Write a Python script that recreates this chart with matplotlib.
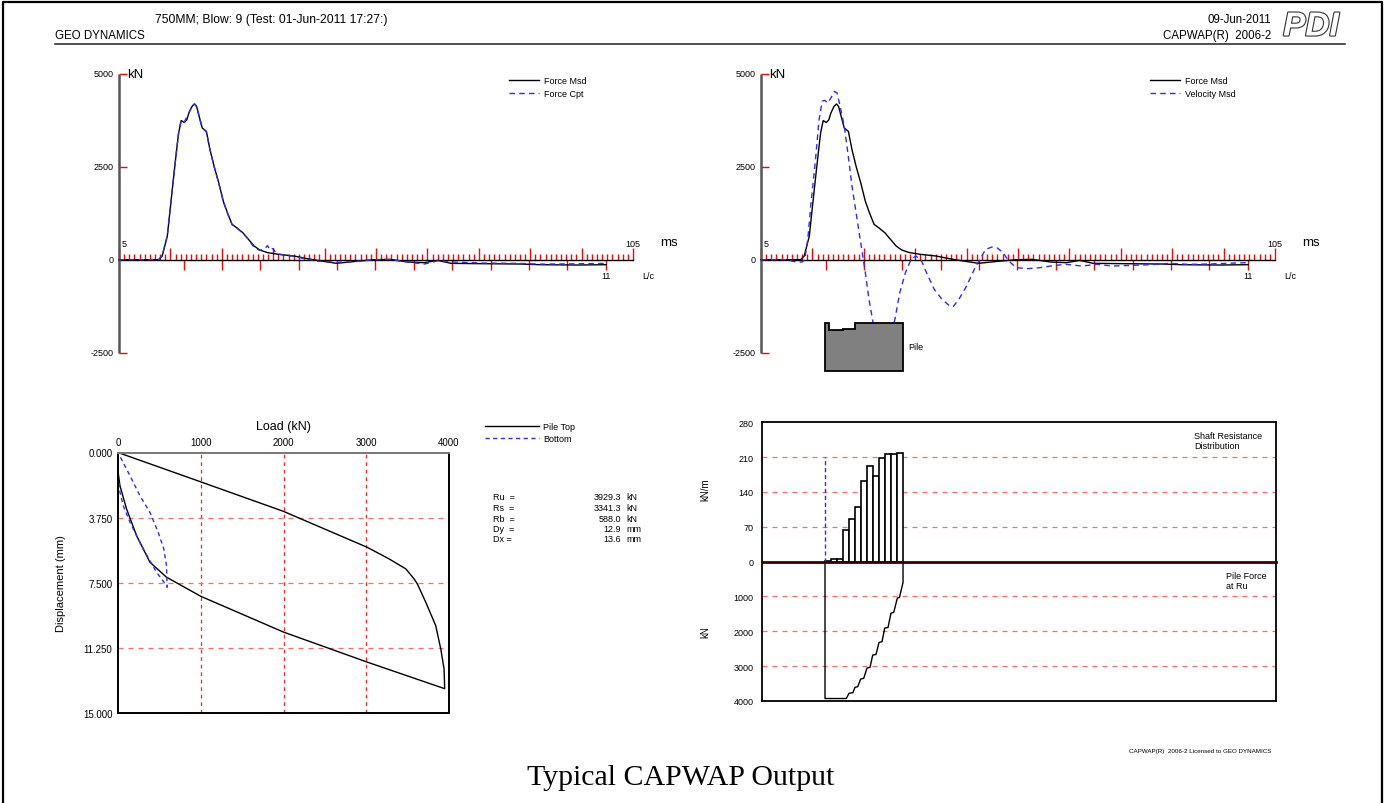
import numpy as np
import matplotlib.pyplot as plt
import matplotlib.patheffects as pe
from matplotlib.lines import Line2D
from matplotlib.patches import Polygon

plt.rcParams['font.family'] = ['Liberation Sans', 'DejaVu Sans']

W, H = 1385, 804

# === Data read from the CAPWAP record ===
# time axis (ms) and wave traces (kN)
t_force = [5, 12.7, 13.4, 14.4, 15.3, 16.0, 16.6, 17.1, 17.7, 18.2, 18.6, 19.2, 19.7, 20.1,
           20.6, 21.2, 22.0, 22.7, 23.5, 24.4, 25.3, 26.1, 27.0, 27.9, 29.1, 30.2, 31.3,
           32.4, 33.9, 36.1, 39.1, 41.3, 43.6, 47.3, 51.0, 54.7, 57.7, 61.4, 64.4, 67.0,
           69.6, 75.6, 83.0, 86.8, 94.2, 99.8]
force_msd = [0, 0, 98, 635, 1800, 2690, 3410, 3740, 3690, 3760, 3945, 4120, 4186, 4120,
             3850, 3540, 3450, 2960, 2510, 2070, 1570, 1260, 950, 860, 725, 545, 367,
             260, 190, 143, 98, 36, -18, -98, -45, 0, 9, -63, -80, -18,
             -98, -107, -116, -134, -143, -134]

t_cpt = [5, 12.7, 13.4, 14.4, 15.3, 16.0, 16.6, 17.1, 17.7, 18.6, 19.2, 19.7, 20.1, 20.6,
         21.2, 22.0, 22.7, 23.5, 24.4, 25.3, 26.1, 27.0, 27.9, 29.1, 30.2, 31.3, 32.4,
         33.3, 33.9, 34.3, 35.0, 35.4, 36.1, 39.1, 41.3, 43.6, 47.3, 51.0, 54.7, 57.7,
         61.4, 64.4, 67.0, 69.6, 75.6, 83.0, 86.8, 94.2, 99.5]
force_cpt = [0, 0, 110, 650, 1820, 2700, 3420, 3745, 3700, 3950, 4125, 4190, 4115, 3845,
             3535, 3440, 2955, 2505, 2060, 1560, 1250, 940, 850, 715, 540, 330, 250,
             290, 380, 270, 300, 200, 150, 90, 20, -40, -70, -50, 0, 5,
             -70, -116, -30, -60, -90, -100, -120, -110, -100]

t_vel = [5, 10, 11.5, 13.0, 13.5, 14.1, 14.8, 15.6, 16.3, 16.9, 17.4, 18.0, 18.6, 19.3,
         19.8, 20.4, 21.2, 21.9, 22.7, 23.6, 24.5, 25.3, 26.0, 26.8, 27.8, 28.8, 29.9,
         30.9, 32.0, 33.1, 34.2, 35.1, 36.1, 37.2, 38.7, 40.2, 41.7, 42.4, 43.5, 45.0,
         46.5, 47.6, 48.7, 49.9, 51.0, 52.1, 53.2, 54.7, 56.9, 59.2, 62.2, 64.4, 67.4,
         70.4, 73.3, 77.1, 80.8, 84.5, 88.2, 92.0, 95.7, 99.4]
velocity_msd = [0, 0, -54, -63, 0, 545, 1620, 2690, 3765, 4258, 4285, 4213, 4347, 4526,
                4480, 4124, 3587, 2871, 1977, 1172, 367, -349, -1064, -1690, -2200, -2350, -2200,
                -1717, -886, -349, 9, 98, 9, -349, -796, -1064, -1243, -1261, -1064, -707,
                -259, 9, 277, 340, 313, 188, -36, -215, -241, -215, -152, -125, -170,
                -125, -170, -152, -134, -98, -125, -116, -98, -80]

# time axis ticks
ms_ticks = list(range(5, 106))
ms_major = [5, 15, 25, 35, 45, 55, 65, 75, 85, 95, 105]
lc_ticks = [17.6, 25.1, 32.5, 40.0, 47.4, 54.9, 62.4, 69.8, 77.3, 84.7, 92.2, 99.7]
kn_ticks = [5000, 2500, 0, -2500]

# simulated static load test (load kN, displacement mm)
top_load = [0, 1000, 2000, 3012, 3277, 3478, 3578, 3618, 3719, 3839, 3900, 3940, 3948,
            3012, 2000, 1000, 586, 386, 225, 104, 24, 0]
top_disp = [0, 1.69, 3.39, 5.46, 6.13, 6.70, 7.28, 7.57, 8.62, 9.96, 11.3, 12.45, 13.6,
            12.07, 10.34, 8.28, 7.18, 6.32, 4.79, 3.26, 1.92, 1.1]
bottom_load = [0, 4, 24, 64, 145, 305, 466, 586, 594, 586, 554, 486, 386, 265, 145, 0]
bottom_disp = [0, 1.34, 2.30, 3.07, 4.02, 5.56, 6.90, 7.66, 7.76, 6.51, 5.56, 4.60, 3.45,
               2.49, 1.34, 0]
load_ticks = [0, 1000, 2000, 3000, 4000]
disp_ticks = [0, 3.75, 7.5, 11.25, 15]

res_labels = ['Ru  =', 'Rs  =', 'Rb  =', 'Dy  =', 'Dx =']
res_values = ['3929.3', '3341.3', '588.0', '12.9', '13.6']
res_units = ['kN', 'kN', 'kN', 'mm', 'mm']

# shaft resistance distribution (kN/m per 2 m segment) and pile force at Ru
seg_top = [0, 2, 4, 6, 8, 10, 12, 14, 16, 18, 20, 22, 24]
shaft_res = [1, 4.7, 5.4, 62.4, 84.6, 109.5, 161.8, 192.1, 172.6, 208.8, 215.6, 215.6, 218.9]
force_depth = [0, 0, 7.1, 8.0, 9.3, 10.0, 10.9, 11.9, 12.9, 14.0, 15.0, 15.9, 17.0, 18.0,
               19.0, 19.9, 21.0, 22.0, 22.9, 24.1, 24.8, 26.0, 26.0]
force_ru = [0, 3929, 3929, 3780, 3760, 3608, 3590, 3370, 3350, 3055, 3035, 2683, 2665, 2320,
            2300, 1909, 1890, 1480, 1460, 1050, 1030, 601, 0]
upper_ticks = [0, 70, 140, 210, 280]
lower_ticks = [1000, 2000, 3000, 4000]

# pile outline (fractions of the little pile sketch)
pile_x = [0, 0, 0.045, 0.045, 0.227, 0.227, 0.385, 0.385, 1, 1]
pile_y = [0, 1, 1, 0.854, 0.854, 0.885, 0.885, 1, 1, 0]


def px_axes(fig, left, top, right, bottom):
    return fig.add_axes([left / W, 1 - bottom / H, (right - left) / W, (bottom - top) / H])


def fig_text(fig, x, y, s, **kw):
    return fig.text(x / W, 1 - y / H, s, **kw)


def fig_line(fig, xs, ys, **kw):
    fig.add_artist(Line2D([x / W for x in xs], [1 - y / H for y in ys], **kw))


def wave_panel(fig, ax, traces, legend_xy):
    t0, t1 = ms_ticks[0], ms_ticks[-1]
    k0, k1 = kn_ticks[-1], kn_ticks[0]
    ax.set_xlim(t0, t1)
    ax.set_ylim(k0, k1)
    ax.axis('off')
    kn_px = (k1 - k0) / 279.0
    ms_px = (t1 - t0) / 514.0
    red = dict(color='red', lw=1.0, clip_on=False)
    minor = [t for t in ms_ticks if t not in ms_major]
    ax.vlines(minor, 0, 5.7 * kn_px, **red)
    ax.vlines(ms_major, 0, 12 * kn_px, **red)
    ax.vlines(lc_ticks, -10 * kn_px, 0, **red)
    ax.hlines([k for k in kn_ticks if k != 0], t0, t0 + 8 * ms_px, **red)
    ax.plot([t0, t1], [0, 0], color='black', lw=1.0, clip_on=False)
    ax.plot([t0, t0], [k0, k1], color='#555555', lw=1.8, clip_on=False,
            solid_capstyle='butt')

    handles = []
    for t, y, label, kw in traces:
        h, = ax.plot(t, y, label=label, clip_on=False, **kw)
        handles.append(h)

    fs = 6.5
    for k in kn_ticks:
        ax.annotate(str(k), xy=(t0, k), xytext=(-5, 0), textcoords='offset pixels',
                    ha='right', va='center', fontsize=fs)
    ax.annotate('kN', xy=(t0, k1), xytext=(8, 0), textcoords='offset pixels',
                ha='left', va='center', fontsize=9.5)
    ax.annotate(str(t0), xy=(t0, 0), xytext=(5, 16), textcoords='offset pixels',
                ha='center', va='center', fontsize=fs)
    ax.annotate(str(t1), xy=(t1, 0), xytext=(0, 16), textcoords='offset pixels',
                ha='center', va='center', fontsize=fs)
    ax.annotate('ms', xy=(t1, 0), xytext=(27, 18), textcoords='offset pixels',
                ha='left', va='center', fontsize=9.5)
    ax.annotate(str(len(lc_ticks) - 1), xy=(lc_ticks[-1], 0), xytext=(0, -16),
                textcoords='offset pixels', ha='center', va='center', fontsize=fs)
    ax.annotate('L/c', xy=(t1, 0), xytext=(9, -16), textcoords='offset pixels',
                ha='left', va='center', fontsize=fs)

    ax.legend(handles=handles, loc='upper left',
              bbox_to_anchor=(legend_xy[0] / W, 1 - legend_xy[1] / H),
              bbox_transform=fig.transFigure, frameon=False, fontsize=fs,
              handlelength=3.3, handletextpad=0.6, labelspacing=0.45,
              borderpad=0, borderaxespad=0)


fig = plt.figure(figsize=(W / 100, H / 100), dpi=100)

# page frame, header and footer
fig_line(fig, [3, 3, 1382, 1382], [804, 3, 3, 804], color='black', lw=1.6)
fig_line(fig, [55, 1345], [45, 45], color='#333333', lw=1.2)
fig_text(fig, 155, 20, '750MM; Blow: 9 (Test: 01-Jun-2011 17:27:)', fontsize=8.7, va='center')
fig_text(fig, 55, 36, 'GEO DYNAMICS', fontsize=8.3, va='center')
fig_text(fig, 1271, 20, '09-Jun-2011', fontsize=8.3, va='center', ha='right')
fig_text(fig, 1271, 36, 'CAPWAP(R)  2006-2', fontsize=8.3, va='center', ha='right')
fig_text(fig, 1311, 28, 'PDI', fontsize=24, fontstyle='italic', fontweight='bold',
         color='white', ha='center', va='center',
         path_effects=[pe.withStroke(linewidth=1.6, foreground='#333333')])
fig_text(fig, 1200, 752, 'CAPWAP(R)  2006-2 Licensed to GEO DYNAMICS', fontsize=4.5,
         ha='center', va='center')
fig_text(fig, 681, 778, 'Typical CAPWAP Output', fontsize=21.5, ha='center', va='center',
         family=['Liberation Serif', 'DejaVu Serif'])

blue = dict(color='#2b2bff', lw=1.0, ls=(0, (4, 3)))
black = dict(color='black', lw=1.0)

# top left: force measured vs computed
ax1 = px_axes(fig, 119, 74.7, 633, 353.7)
wave_panel(fig, ax1, [(t_force, force_msd, 'Force Msd', black),
                      (t_cpt, force_cpt, 'Force Cpt', blue)], (509, 77))

# top right: force and velocity measured
ax2 = px_axes(fig, 761, 74.7, 1275, 353.7)
wave_panel(fig, ax2, [(t_force, force_msd, 'Force Msd', black),
                      (t_vel, velocity_msd, 'Velocity Msd', blue)], (1150, 77))

axp = px_axes(fig, 825, 324, 903, 372)
axp.set_xlim(0, 1)
axp.set_ylim(0, 1)
axp.axis('off')
axp.add_patch(Polygon(list(zip(pile_x, pile_y)), closed=True, facecolor='#808080',
                      edgecolor='black', lw=1.3, clip_on=False))
fig_text(fig, 908, 348, 'Pile', fontsize=6.5, va='center')

# bottom left: simulated static load test
ax3 = px_axes(fig, 118, 453.5, 449, 714)
ax3.set_xlim(load_ticks[0], load_ticks[-1])
ax3.set_ylim(disp_ticks[-1], disp_ticks[0])
ax3.xaxis.tick_top()
ax3.xaxis.set_label_position('top')
ax3.set_xticks(load_ticks)
ax3.set_yticks(disp_ticks)
ax3.set_yticklabels([f'{d:.3f}' for d in disp_ticks])
ax3.tick_params(length=0, labelsize=7, pad=4)
ax3.set_xlabel('Load (kN)', fontsize=9, labelpad=6)
ax3.set_ylabel('Displacement (mm)', fontsize=8, labelpad=12)
for v in load_ticks[1:-1]:
    ax3.axvline(v, color='#ff2020', lw=0.9, ls=(0, (3, 3)))
for v in disp_ticks[1:-1]:
    ax3.axhline(v, color='#ff6a6a', lw=0.9, ls=(0, (4, 4)))
for side, sp in ax3.spines.items():
    sp.set_color('#777777' if side == 'top' else 'black')
    sp.set_linewidth(1.4)
l_top, = ax3.plot(top_load, top_disp, color='black', lw=1.0, label='Pile Top')
l_bot, = ax3.plot(bottom_load, bottom_disp, color='#2b2bff', lw=1.0,
                  ls=(0, (3, 2.5)), label='Bottom')
ax3.legend(handles=[l_top, l_bot], loc='upper left',
           bbox_to_anchor=(485 / W, 1 - 423 / H), bbox_transform=fig.transFigure,
           frameon=False, fontsize=6.5, handlelength=6.0, handletextpad=0.4,
           labelspacing=0.3, borderpad=0, borderaxespad=0)

for i, (lab, val, unit) in enumerate(zip(res_labels, res_values, res_units)):
    y = 498 + 10.5 * i
    fig_text(fig, 493, y, lab, fontsize=6.5, va='center')
    fig_text(fig, 621, y, val, fontsize=6.5, va='center', ha='right')
    fig_text(fig, 626, y, unit, fontsize=6.5, va='center')

# bottom right: shaft resistance distribution and pile force at Ru
x_lim = (-21, 150.3)
ax4 = px_axes(fig, 762, 423.3, 1276, 562.5)
ax5 = px_axes(fig, 762, 562.5, 1276, 702)
ax5.patch.set_alpha(0)
ax4.set_xlim(*x_lim)
ax5.set_xlim(*x_lim)
ax4.set_ylim(upper_ticks[0], upper_ticks[-1])
ax5.set_ylim(lower_ticks[-1], 0)
ax4.set_yticks(upper_ticks)
ax5.set_yticks(lower_ticks)
for ax in (ax4, ax5):
    ax.set_xticks([])
    ax.tick_params(length=0, labelsize=6.5, pad=6)
    for sp in ax.spines.values():
        sp.set_color('black')
        sp.set_linewidth(1.3)
ax4.spines['bottom'].set_visible(False)
ax5.spines['top'].set_visible(False)
for v in upper_ticks[1:-1]:
    ax4.axhline(v, color='#ff6a6a', lw=0.9, ls=(0, (4, 4)))
for v in lower_ticks[:-1]:
    ax5.axhline(v, color='#ff6a6a', lw=0.9, ls=(0, (4, 4)))

ax4.bar(seg_top, shaft_res, width=2.0, align='edge', color='white', edgecolor='black',
        lw=1.2, zorder=3)
ax4.vlines(0, 0, 210, color='#2b2bff', lw=1.0, ls=(0, (3, 2)), zorder=4)
ax5.plot(force_depth, force_ru, color='black', lw=1.0, zorder=3)
ax5.axhline(0, color='#3a0000', lw=2.0, clip_on=False, zorder=5)

fig_text(fig, 1194, 437, 'Shaft Resistance', fontsize=6.5, va='center')
fig_text(fig, 1194, 447, 'Distribution', fontsize=6.5, va='center')
fig_text(fig, 1226, 577, 'Pile Force', fontsize=6.5, va='center')
fig_text(fig, 1226, 587, 'at Ru', fontsize=6.5, va='center')
fig_text(fig, 705, 490, 'kN/m', fontsize=7, rotation=90, ha='center', va='center')
fig_text(fig, 705, 632, 'kN', fontsize=7, rotation=90, ha='center', va='center')

fig.savefig('out.png', dpi=100)
plt.close(fig)
